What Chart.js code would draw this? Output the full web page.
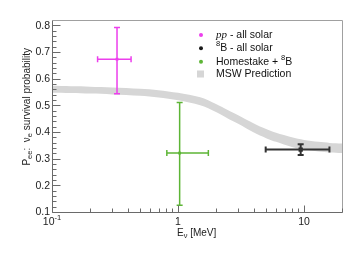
<!DOCTYPE html>
<html><head><meta charset="utf-8">
<script src="https://cdn.jsdelivr.net/npm/chart.js@4.4.1/dist/chart.umd.min.js"></script>
<style>html,body{margin:0;padding:0;background:#fff;}canvas{display:block;}</style>
</head><body>
<canvas id="c" width="363" height="257"></canvas>
<script>
// ---- data ----
const mswEnergy = [0.1,0.2,0.3,0.5,0.7,1.0,1.5,2.0,2.5,3.0,4.0,5.0,6.0,8.0,10,13,16,20];
const mswUpper  = [0.573,0.570,0.567,0.562,0.557,0.547,0.530,0.505,0.482,0.463,0.432,0.411,0.397,0.380,0.370,0.363,0.359,0.357];
const mswLower  = [0.547,0.544,0.541,0.536,0.529,0.519,0.500,0.475,0.450,0.431,0.398,0.377,0.363,0.344,0.334,0.327,0.323,0.321];

const ppX = [0.328], ppXlo = [0.230], ppXhi = [0.424];
const ppY = [0.673], ppYlo = [0.543], ppYhi = [0.792];

const b8X = [9.4], b8Xlo = [4.96], b8Xhi = [15.9];
const b8Y = [0.334], b8Ylo = [0.314], b8Yhi = [0.354];

const hsX = [1.03], hsXlo = [0.815], hsXhi = [1.74];
const hsY = [0.321], hsYlo = [0.125], hsYhi = [0.511];

const yTickLabels = ['0.1','0.2','0.3','0.4','0.5','0.6','0.7','0.8'];
const xTickBase = ['10','1','10'];
const xTickExp  = ['-1','',''];
const xTickValues = [0.1,1,10];

const legendLabels = ['pp', ' - all solar', '8', 'B - all solar', 'Homestake + ', '8', 'B', 'MSW Prediction'];

const MAG = '#ec3fec', GRN = '#5db536', BLK = '#1a1a1a', GRAY = '#d6d6d6';
const SANS = '"Liberation Sans", Arial, sans-serif';

function pts(xs, ys){ return xs.map((x,i)=>({x:x, y:ys[i]})); }

const series = [
  {x:ppX, xlo:ppXlo, xhi:ppXhi, y:ppY, ylo:ppYlo, yhi:ppYhi, color:MAG, lw:1.5, cap:3},
  {x:hsX, xlo:hsXlo, xhi:hsXhi, y:hsY, ylo:hsYlo, yhi:hsYhi, color:GRN, lw:1.5, cap:3},
  {x:b8X, xlo:b8Xlo, xhi:b8Xhi, y:b8Y, ylo:b8Ylo, yhi:b8Yhi, color:'#333', lw:2, cap:3}
];

function drawMixed(ctx, parts, x, y, align){
  // parts: [{t, size, dy, font}]
  let w = 0;
  parts.forEach(p=>{ ctx.font = p.font || (p.size+'px '+SANS); p.w = ctx.measureText(p.t).width; w += p.w; });
  let cx = align==='center' ? x - w/2 : (align==='right' ? x - w : x);
  ctx.textAlign = 'left';
  parts.forEach(p=>{ ctx.font = p.font || (p.size+'px '+SANS); ctx.fillText(p.t, cx, y + (p.dy||0)); cx += p.w; });
  return w;
}

const custom = {
  id:'custom',
  afterDatasetsDraw(chart){
    const ctx = chart.ctx, xs = chart.scales.x, ys = chart.scales.y;
    ctx.save();
    series.forEach(s=>{
      ctx.strokeStyle = s.color; ctx.lineWidth = s.lw;
      for(let i=0;i<s.x.length;i++){
        const px = xs.getPixelForValue(s.x[i]), py = ys.getPixelForValue(s.y[i]);
        const x0 = xs.getPixelForValue(s.xlo[i]), x1 = xs.getPixelForValue(s.xhi[i]);
        const y0 = ys.getPixelForValue(s.ylo[i]), y1 = ys.getPixelForValue(s.yhi[i]);
        ctx.beginPath();
        ctx.moveTo(x0,py); ctx.lineTo(x1,py);
        ctx.moveTo(px,y0); ctx.lineTo(px,y1);
        ctx.moveTo(x0,py-s.cap); ctx.lineTo(x0,py+s.cap);
        ctx.moveTo(x1,py-s.cap); ctx.lineTo(x1,py+s.cap);
        ctx.moveTo(px-s.cap,y0); ctx.lineTo(px+s.cap,y0);
        ctx.moveTo(px-s.cap,y1); ctx.lineTo(px+s.cap,y1);
        ctx.stroke();
      }
    });
    ctx.restore();
  },
  afterDraw(chart){
    const ctx = chart.ctx, xs = chart.scales.x, ys = chart.scales.y, a = chart.chartArea;
    ctx.save();
    const L = Math.round(a.left)+0.5, R = Math.round(a.right)+0.5, T = Math.round(a.top)+0.5, B = Math.round(a.bottom)+0.5;
    ctx.lineWidth = 1;
    ctx.strokeStyle = '#a0a0a0';
    ctx.beginPath(); ctx.moveTo(L,T); ctx.lineTo(R,T); ctx.lineTo(R,B); ctx.stroke();
    ctx.strokeStyle = '#6a6a6a';
    ctx.beginPath(); ctx.moveTo(L,T); ctx.lineTo(L,B); ctx.lineTo(R,B); ctx.stroke();
    // y ticks
    ctx.beginPath();
    for(let k=0;k<=35;k++){
      const v = 0.1 + k*0.02;
      if (v > 0.821) break;
      const py = Math.round(ys.getPixelForValue(v))+0.5;
      const len = (k%5===0) ? 8 : 4;
      ctx.moveTo(L,py); ctx.lineTo(L+len,py);
    }
    // x ticks
    [0.1,1,10].forEach(d=>{
      for(let m=1;m<=9;m++){
        const v = d*m;
        if (v > 20.0001) continue;
        const px = Math.round(xs.getPixelForValue(v))+0.5;
        const len = (m===1) ? 7 : 4;
        ctx.moveTo(px,B); ctx.lineTo(px,B-len);
      }
    });
    ctx.stroke();
    // tick labels
    ctx.fillStyle = '#222';
    ctx.textBaseline = 'middle';
    ctx.font = '10.5px '+SANS;
    ctx.textAlign = 'right';
    yTickLabels.forEach(t=>{
      const py = ys.getPixelForValue(parseFloat(t));
      ctx.fillText(t, a.left-2, py+0.5);
    });
    xTickValues.forEach((v,i)=>{
      const px = xs.getPixelForValue(v);
      const parts = [{t:xTickBase[i], size:10.5}];
      if (xTickExp[i]) parts.push({t:xTickExp[i], size:7.5, dy:-4});
      drawMixed(ctx, parts, px, a.bottom+10, 'center');
    });
    // x title
    drawMixed(ctx, [{t:'E',size:10},{t:'\u03BD',size:7.5,dy:3},{t:' [MeV]',size:10}], 177, a.bottom+21, 'left');
    // y title (rotated)
    ctx.save();
    ctx.translate(27, 48);
    ctx.rotate(-Math.PI/2);
    drawMixed(ctx, [{t:'P',size:10},{t:'ee',size:7.5,dy:3},{t:':  ',size:10},{t:'\u03BD',size:10},{t:'e',size:7.5,dy:3},{t:' survival probability',size:10}], 0, 0, 'right');
    ctx.restore();
    // legend
    const lx = 201, tx = 216;
    const rows = [35, 48.3, 61.7, 74];
    const cols = [MAG, BLK, GRN];
    for(let i=0;i<3;i++){
      ctx.fillStyle = cols[i];
      ctx.beginPath(); ctx.arc(lx, rows[i], 2, 0, Math.PI*2); ctx.fill();
    }
    ctx.fillStyle = GRAY;
    ctx.fillRect(197, rows[3]-3.5, 7, 7);
    ctx.fillStyle = '#111';
    drawMixed(ctx, [{t:legendLabels[0], font:'italic 11px "Liberation Serif", serif'},{t:legendLabels[1], size:10.5}], tx, rows[0], 'left');
    drawMixed(ctx, [{t:legendLabels[2], size:7.5, dy:-4},{t:legendLabels[3], size:10.5}], tx, rows[1], 'left');
    drawMixed(ctx, [{t:legendLabels[4], size:10.5},{t:legendLabels[5], size:7.5, dy:-4},{t:legendLabels[6], size:10.5}], tx, rows[2], 'left');
    drawMixed(ctx, [{t:legendLabels[7], size:10.5}], tx, rows[3], 'left');
    ctx.restore();
  }
};

new Chart(document.getElementById('c'), {
  type:'scatter',
  data:{
    datasets:[
      {label:'MSW upper', data:pts(mswEnergy, mswUpper), showLine:true, borderWidth:0, borderColor:'rgba(0,0,0,0)', pointRadius:0, fill:'+1', backgroundColor:GRAY, tension:0.3, order:10},
      {label:'MSW lower', data:pts(mswEnergy, mswLower), showLine:true, borderWidth:0, borderColor:'rgba(0,0,0,0)', pointRadius:0, fill:false, tension:0.3, order:11},
      {label:'pp - all solar', data:pts(ppX, ppY), pointStyle:'rect', pointRadius:2, backgroundColor:MAG, borderColor:MAG, borderWidth:0, order:1},
      {label:'Homestake + 8B', data:pts(hsX, hsY), pointStyle:'rect', pointRadius:2, backgroundColor:GRN, borderColor:GRN, borderWidth:0, order:1},
      {label:'8B - all solar', data:pts(b8X, b8Y), pointStyle:'rect', pointRadius:3, backgroundColor:BLK, borderColor:BLK, borderWidth:0, order:1}
    ]
  },
  options:{
    responsive:false, animation:false, devicePixelRatio:1,
    layout:{padding:{left:52, top:20, right:21, bottom:45}},
    plugins:{legend:{display:false}, tooltip:{enabled:false}, filler:{propagate:false}},
    scales:{
      x:{type:'logarithmic', min:0.1, max:20, display:false},
      y:{type:'linear', min:0.1, max:0.82, display:false}
    }
  },
  plugins:[custom]
});
</script>
</body></html>
